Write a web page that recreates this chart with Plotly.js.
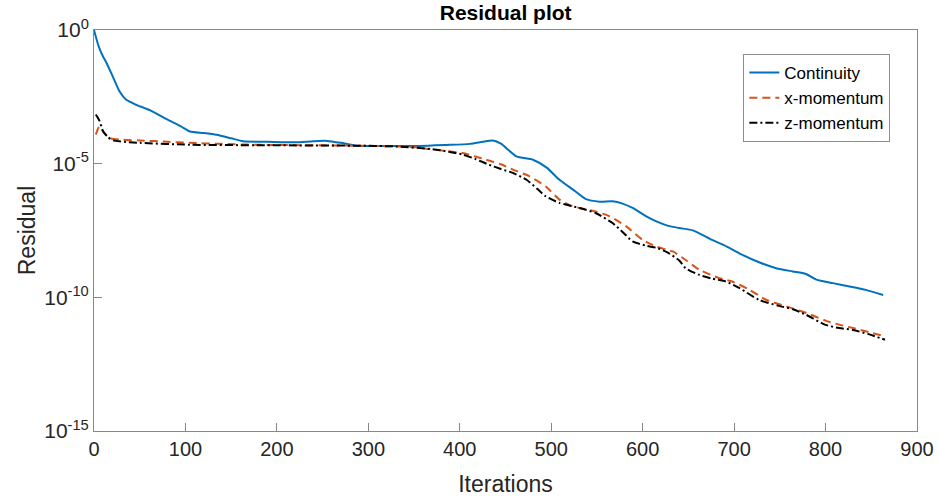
<!DOCTYPE html>
<html>
<head>
<meta charset="utf-8">
<script src="https://cdn.plot.ly/plotly-3.0.1.min.js"></script>
<style>html,body{margin:0;padding:0;background:#fff;}#chart{width:939px;height:497px;}</style>
</head>
<body>
<div id="chart"></div>
<script>
// Continuity residual
const contIter = [0, 5, 10, 14, 20, 28, 35, 45, 61, 80, 95, 105, 120, 134, 150, 163, 190, 220, 240, 255, 270, 287, 320, 356, 385, 411, 425, 436, 445, 462, 480, 495, 509, 525, 538, 553, 567, 578, 589, 603, 615, 628, 640, 655, 676, 692, 709, 728, 746, 764, 778, 790, 808, 825, 844, 863];
const contRes = [1.0, 2.5e-1, 1.0e-1, 5.6e-2, 2.0e-2, 5.0e-3, 2.5e-3, 1.66e-3, 1.0e-3, 4.5e-4, 2.5e-4, 1.6e-4, 1.4e-4, 1.2e-4, 8.9e-5, 6.9e-5, 6.6e-5, 6.3e-5, 6.9e-5, 7.1e-5, 6.0e-5, 4.7e-5, 4.6e-5, 4.6e-5, 5.0e-5, 5.5e-5, 6.6e-5, 7.4e-5, 5.6e-5, 1.86e-5, 1.4e-5, 7.1e-6, 2.5e-6, 1.0e-6, 4.7e-7, 3.8e-7, 3.9e-7, 3.2e-7, 2.2e-7, 1.12e-7, 6.9e-8, 4.7e-8, 3.9e-8, 3.2e-8, 1.4e-8, 7.9e-9, 3.9e-9, 2.0e-9, 1.23e-9, 9.3e-10, 7.6e-10, 4.6e-10, 3.4e-10, 2.6e-10, 1.9e-10, 1.23e-10];

// x-momentum residual
const xmIter = [2, 6, 10, 17, 30, 50, 80, 105, 140, 177, 230, 287, 320, 352, 367, 385, 403, 416, 429, 445, 458, 476, 494, 509, 520, 531, 549, 564, 582, 600, 615, 626, 633, 647, 662, 684, 698, 717, 735, 757, 779, 800, 815, 830, 847, 863];
const xmRes = [1.23e-4, 2.5e-4, 1.6e-4, 9.1e-5, 7.9e-5, 7.4e-5, 6.6e-5, 6.0e-5, 5.5e-5, 5.1e-5, 4.9e-5, 4.7e-5, 4.5e-5, 4.1e-5, 3.5e-5, 3.0e-5, 2.5e-5, 1.9e-5, 1.4e-5, 9.5e-6, 6.0e-6, 3.4e-6, 1.4e-6, 4.5e-7, 2.8e-7, 2.2e-7, 1.6e-7, 1.07e-7, 4.5e-8, 1.4e-8, 7.9e-9, 6.0e-9, 5.2e-9, 2.5e-9, 1.07e-9, 5.2e-10, 3.9e-10, 1.9e-10, 8.1e-11, 4.6e-11, 2.6e-11, 1.35e-11, 9.5e-12, 7.1e-12, 5.0e-12, 3.6e-12];

// z-momentum residual
const zmIter = [2, 6, 10, 15, 21, 35, 50, 105, 177, 287, 330, 370, 403, 418, 432, 445, 458, 473, 485, 494, 509, 531, 549, 567, 578, 589, 604, 615, 626, 640, 647, 662, 676, 691, 706, 727, 749, 765, 779, 800, 815, 830, 847, 865];
const zmRes = [6.9e-4, 4.0e-4, 1.6e-4, 1.0e-4, 7.4e-5, 6.5e-5, 6.0e-5, 5.1e-5, 4.9e-5, 4.7e-5, 4.4e-5, 3.5e-5, 2.2e-5, 1.45e-5, 9.1e-6, 6.3e-6, 4.5e-6, 2.5e-6, 1.12e-6, 6.0e-7, 3.4e-7, 2.2e-7, 1.4e-7, 6.0e-8, 2.8e-8, 1.23e-8, 8.5e-9, 7.1e-9, 5.0e-9, 2.4e-9, 1.23e-9, 6.9e-10, 5.0e-10, 3.9e-10, 2.2e-10, 8.1e-11, 4.8e-11, 3.5e-11, 2.2e-11, 9.3e-12, 7.1e-12, 6.0e-12, 4.2e-12, 2.6e-12];

const yTickVals = [1, 1e-5, 1e-10, 1e-15];
const yTickText = ['10<sup>0</sup>', '10<sup>-5</sup>', '10<sup>-10</sup>', '10<sup>-15</sup>'];
const xTickVals = [0, 100, 200, 300, 400, 500, 600, 700, 800, 900];

const FONT = 'Liberation Sans, Arial, Helvetica, sans-serif';
const AX = '#262626';

const traces = [
  {x: contIter, y: contRes, name: 'Continuity', mode: 'lines',
   line: {color: '#0072BD', width: 2, shape: 'spline', smoothing: 0.6}},
  {x: xmIter, y: xmRes, name: 'x-momentum', mode: 'lines',
   line: {color: '#D95319', width: 2, dash: '8px,5px', shape: 'spline', smoothing: 0.6}},
  {x: zmIter, y: zmRes, name: 'z-momentum', mode: 'lines',
   line: {color: '#000000', width: 2, dash: '8px,3px,2px,3px', shape: 'spline', smoothing: 0.6}}
];

const layout = {
  width: 939, height: 497,
  margin: {l: 94, r: 22, t: 30, b: 66},
  paper_bgcolor: '#fff', plot_bgcolor: '#fff',
  font: {family: FONT, color: AX},
  title: {text: '<b>Residual plot</b>', font: {family: FONT, size: 21, color: '#000'},
          x: 0.5385, xanchor: 'center', y: 0.974, yanchor: 'middle'},
  showlegend: true,
  legend: {x: 0.789, y: 0.94, xanchor: 'left', yanchor: 'top',
           bgcolor: '#fff', bordercolor: '#8c8c8c', borderwidth: 1,
           font: {family: FONT, size: 17, color: '#000'}, itemwidth: 30,
           tracegroupgap: 0},
  xaxis: {
    range: [0, 900], tickvals: xTickVals, ticks: 'inside', ticklen: 8,
    tickcolor: '#888', tickfont: {family: FONT, size: 20, color: AX},
    showline: true, linecolor: '#888', linewidth: 1, mirror: true,
    showgrid: false, zeroline: false,
    title: {text: 'Iterations', font: {family: FONT, size: 23, color: AX}, standoff: 16}
  },
  yaxis: {
    type: 'log', range: [-15, 0], tickvals: yTickVals, ticktext: yTickText,
    ticks: 'inside', ticklen: 8, tickcolor: '#888',
    tickfont: {family: FONT, size: 21, color: AX},
    showline: true, linecolor: '#888', linewidth: 1, mirror: true,
    showgrid: false, zeroline: false,
    title: {text: 'Residual', font: {family: FONT, size: 23, color: AX}, standoff: 2}
  }
};

Plotly.newPlot('chart', traces, layout, {displayModeBar: false, staticPlot: true});
</script>
</body>
</html>
